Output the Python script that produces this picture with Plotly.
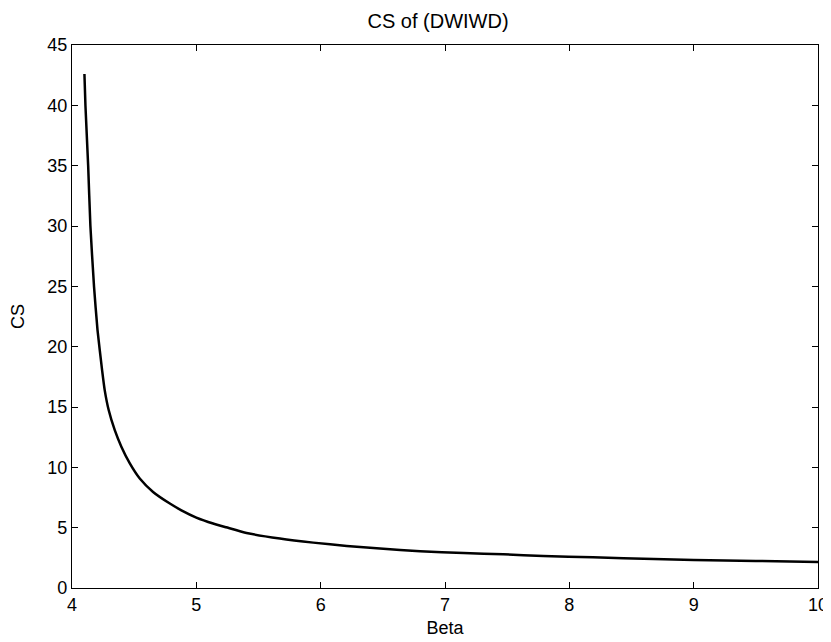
import plotly.graph_objects as go

beta = [4.100, 4.108, 4.130, 4.148, 4.177, 4.205, 4.242, 4.263, 4.295, 4.344, 4.398,
        4.465, 4.545, 4.652, 4.787, 4.880, 5.000, 5.135, 5.240, 5.404, 5.672, 5.940,
        6.210, 6.477, 6.800, 7.150, 7.470, 7.790, 8.190, 8.680, 9.000, 9.500, 10.000]
cs = [42.6, 40.0, 35.0, 30.0, 25.0, 21.4, 18.05, 16.4, 14.75, 13.08, 11.69,
      10.32, 9.07, 7.96, 7.00, 6.44, 5.84, 5.34, 5.03, 4.56, 4.10, 3.76,
      3.48, 3.27, 3.05, 2.90, 2.79, 2.65, 2.55, 2.40, 2.33, 2.24, 2.16]

x_ticks = [4, 5, 6, 7, 8, 9, 10]
y_ticks = [0, 5, 10, 15, 20, 25, 30, 35, 40, 45]

fig = go.Figure()
fig.add_trace(go.Scatter(x=beta, y=cs, mode="lines",
                         line=dict(color="black", width=2.5, shape="spline", smoothing=0.5),
                         showlegend=False, cliponaxis=True))

FAM = "Liberation Sans, Arial, sans-serif"
font = dict(family=FAM, size=18, color="black")
axis_common = dict(showgrid=False, zeroline=False, showline=True, linecolor="black",
                   linewidth=1.2, mirror="ticks", ticks="inside", ticklen=6,
                   tickcolor="black", tickwidth=1, tickfont=font, automargin=False)

# page body has an 8px default margin, so the figure is sized/offset to compensate
fig.update_layout(
    width=823, height=634,
    paper_bgcolor="white", plot_bgcolor="white",
    margin=dict(l=64, r=13, t=37, b=54, autoexpand=False),
    font=font,
    title=dict(text="CS of (DWIWD)", x=0.5225, xanchor="center", y=0.9795, yanchor="middle",
               font=dict(family=FAM, size=20, color="black")),
    xaxis=dict(range=[4, 10], tickvals=x_ticks, title=dict(text="Beta", font=font, standoff=7),
               **axis_common),
    yaxis=dict(range=[0, 45], tickvals=y_ticks, title=dict(text="CS", font=font, standoff=17),
               **axis_common),
)

fig.write_html("out.html")
